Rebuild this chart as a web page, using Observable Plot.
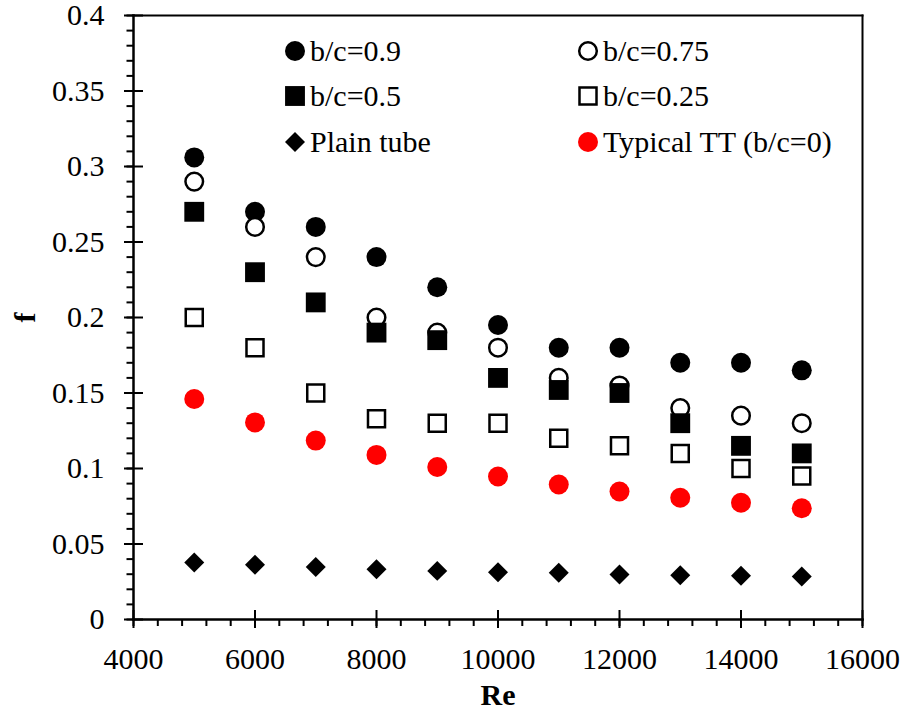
<!DOCTYPE html>
<html>
<head>
<meta charset="utf-8">
<script src="https://cdn.jsdelivr.net/npm/d3@7"></script>
<script src="https://cdn.jsdelivr.net/npm/@observablehq/plot@0.6"></script>
<style>
  body { margin: 0; background: #fff; }
  #wrap { position: relative; width: 904px; height: 717px; font-family: "Liberation Serif", "Times New Roman", serif; }
  #wrap svg text { font-family: "Liberation Serif", "Times New Roman", serif !important; }
  #legend { position: absolute; left: 0; top: 0; }
  .item { position: absolute; display: flex; align-items: center; height: 30px; font-size: 30px; line-height: 30px; color: #000; white-space: nowrap; font-family: "Liberation Serif", "Times New Roman", serif; }
  .item svg { margin-right: 4px; flex: none; }
</style>
</head>
<body>
<div id="wrap"><div id="legend"></div></div>
<script>
// ---- data ----
const re = [5000, 6000, 7000, 8000, 9000, 10000, 11000, 12000, 13000, 14000, 15000];
const bc09 = [0.306, 0.270, 0.260, 0.240, 0.220, 0.195, 0.180, 0.180, 0.170, 0.170, 0.165];
const bc075 = [0.290, 0.260, 0.240, 0.200, 0.190, 0.180, 0.160, 0.155, 0.140, 0.135, 0.130];
const bc05 = [0.270, 0.230, 0.210, 0.190, 0.185, 0.160, 0.152, 0.150, 0.130, 0.115, 0.110];
const bc025 = [0.200, 0.180, 0.150, 0.133, 0.130, 0.130, 0.120, 0.115, 0.110, 0.100, 0.095];
const plainTube = [0.0377, 0.0362, 0.0347, 0.0333, 0.0322, 0.0313, 0.0309, 0.0298, 0.0293, 0.0289, 0.0285];
const typicalTT = [0.146, 0.1305, 0.1185, 0.109, 0.101, 0.0947, 0.0894, 0.0848, 0.0806, 0.0773, 0.0737];
const seriesNames = ["b/c=0.9", "b/c=0.75", "b/c=0.5", "b/c=0.25", "Plain tube", "Typical TT (b/c=0)"];
const xTicks = [4000, 6000, 8000, 10000, 12000, 14000, 16000];
const xTickLabels = ["4000", "6000", "8000", "10000", "12000", "14000", "16000"];
const yTicks = [0, 0.05, 0.1, 0.15, 0.2, 0.25, 0.3, 0.35, 0.4];
const yTickLabels = ["0", "0.05", "0.1", "0.15", "0.2", "0.25", "0.3", "0.35", "0.4"];
const xLabel = "Re";
const yLabel = "f";

// ---- styles ----
const serif = "'Liberation Serif', 'Times New Roman', serif";
const seriesValues = [bc09, bc075, bc05, bc025, plainTube, typicalTT];
const seriesStyle = [
  {symbol: "circle", fill: "#000", stroke: "none", strokeWidth: 0, r: 10},
  {symbol: "circle", fill: "#fff", stroke: "#000", strokeWidth: 2.5, r: 8.8},
  {symbol: "square", fill: "#000", stroke: "none", strokeWidth: 0, r: 11.2},
  {symbol: "square", fill: "#fff", stroke: "#000", strokeWidth: 2.5, r: 9.6},
  {symbol: "diamond2", fill: "#000", stroke: "none", strokeWidth: 0, r: 9},
  {symbol: "circle", fill: "#ff0000", stroke: "none", strokeWidth: 0, r: 10}
];

const rows = vals => re.map((x, i) => ({re: x, f: vals[i]}));
const xMinor = d3.range(4000, 16001, 400);
const yMinor = d3.range(0, 41).map(i => i / 100);

const dotMarks = seriesValues.map((vals, k) =>
  Plot.dot(rows(vals), {x: "re", y: "f", ...seriesStyle[k]})
);

const chart = Plot.plot({
  width: 904,
  height: 717,
  marginLeft: 133,
  marginRight: 42,
  marginTop: 15,
  marginBottom: 98,
  style: {fontFamily: serif, fontSize: "30px", color: "#000", background: "#fff", overflow: "visible"},
  x: {type: "linear", domain: [4000, 16000]},
  y: {type: "linear", domain: [0, 0.4]},
  marks: [
    Plot.frame({anchor: "top", strokeWidth: 2}),
    Plot.frame({anchor: "right", strokeWidth: 2}),
    Plot.axisY(yMinor, {anchor: "left", tickSize: 6.5, strokeWidth: 2, fill: "none"}),
    Plot.axisY(yTicks, {anchor: "left", tickSize: 19, dx: 10, strokeWidth: 2, fill: "none"}),
    Plot.axisY(yTicks, {anchor: "left", tickSize: 0, tickPadding: 29, fontFamily: serif, fontSize: 30,
      tickFormat: d => yTickLabels[yTicks.indexOf(d)],
      label: yLabel, labelAnchor: "center", labelOffset: 120, labelArrow: false}),
    Plot.axisX(xMinor, {anchor: "bottom", tickSize: 7, strokeWidth: 2, fill: "none"}),
    Plot.axisX(xTicks, {anchor: "bottom", tickSize: 18, dy: -9, strokeWidth: 2, fill: "none"}),
    Plot.axisX(xTicks, {anchor: "bottom", tickSize: 0, tickPadding: 28, fontFamily: serif, fontSize: 30,
      tickFormat: d => xTickLabels[xTicks.indexOf(d)],
      label: xLabel, labelAnchor: "center", labelOffset: 85, labelArrow: false}),
    Plot.frame({anchor: "left", strokeWidth: 2.5}),
    Plot.frame({anchor: "bottom", strokeWidth: 2.5}),
    ...dotMarks
  ]
});

chart.querySelectorAll("text").forEach(t => {
  t.style.fontFamily = serif;
  if (t.textContent === xLabel || t.textContent === yLabel) t.setAttribute("font-weight", "bold");
});
document.getElementById("wrap").prepend(chart);

// ---- legend (HTML overlay) ----
function markerSvg(st) {
  const ns = "http://www.w3.org/2000/svg";
  const s = document.createElementNS(ns, "svg");
  s.setAttribute("width", 22); s.setAttribute("height", 22);
  let el;
  if (st.symbol === "circle") {
    el = document.createElementNS(ns, "circle");
    el.setAttribute("cx", 11); el.setAttribute("cy", 11); el.setAttribute("r", st.r);
  } else if (st.symbol === "square") {
    const w = st.r * Math.sqrt(Math.PI);
    el = document.createElementNS(ns, "rect");
    el.setAttribute("x", 11 - w / 2); el.setAttribute("y", 11 - w / 2);
    el.setAttribute("width", w); el.setAttribute("height", w);
  } else {
    const h = st.r * Math.sqrt(Math.PI) * 0.62625;
    el = document.createElementNS(ns, "polygon");
    el.setAttribute("points", `11,${11 - h} ${11 + h},11 11,${11 + h} ${11 - h},11`);
  }
  el.setAttribute("fill", st.fill);
  el.setAttribute("stroke", st.stroke);
  el.setAttribute("stroke-width", st.strokeWidth);
  s.appendChild(el);
  return s;
}
const legendCols = [295, 588];
const legendRows = [51, 96, 142];
const legend = document.getElementById("legend");
seriesNames.forEach((name, k) => {
  const div = document.createElement("div");
  div.className = "item";
  div.style.left = (legendCols[k % 2] - 11) + "px";
  div.style.top = (legendRows[Math.floor(k / 2)] - 15) + "px";
  div.appendChild(markerSvg(seriesStyle[k]));
  const span = document.createElement("span");
  span.textContent = name;
  div.appendChild(span);
  legend.appendChild(div);
});
</script>
</body>
</html>
